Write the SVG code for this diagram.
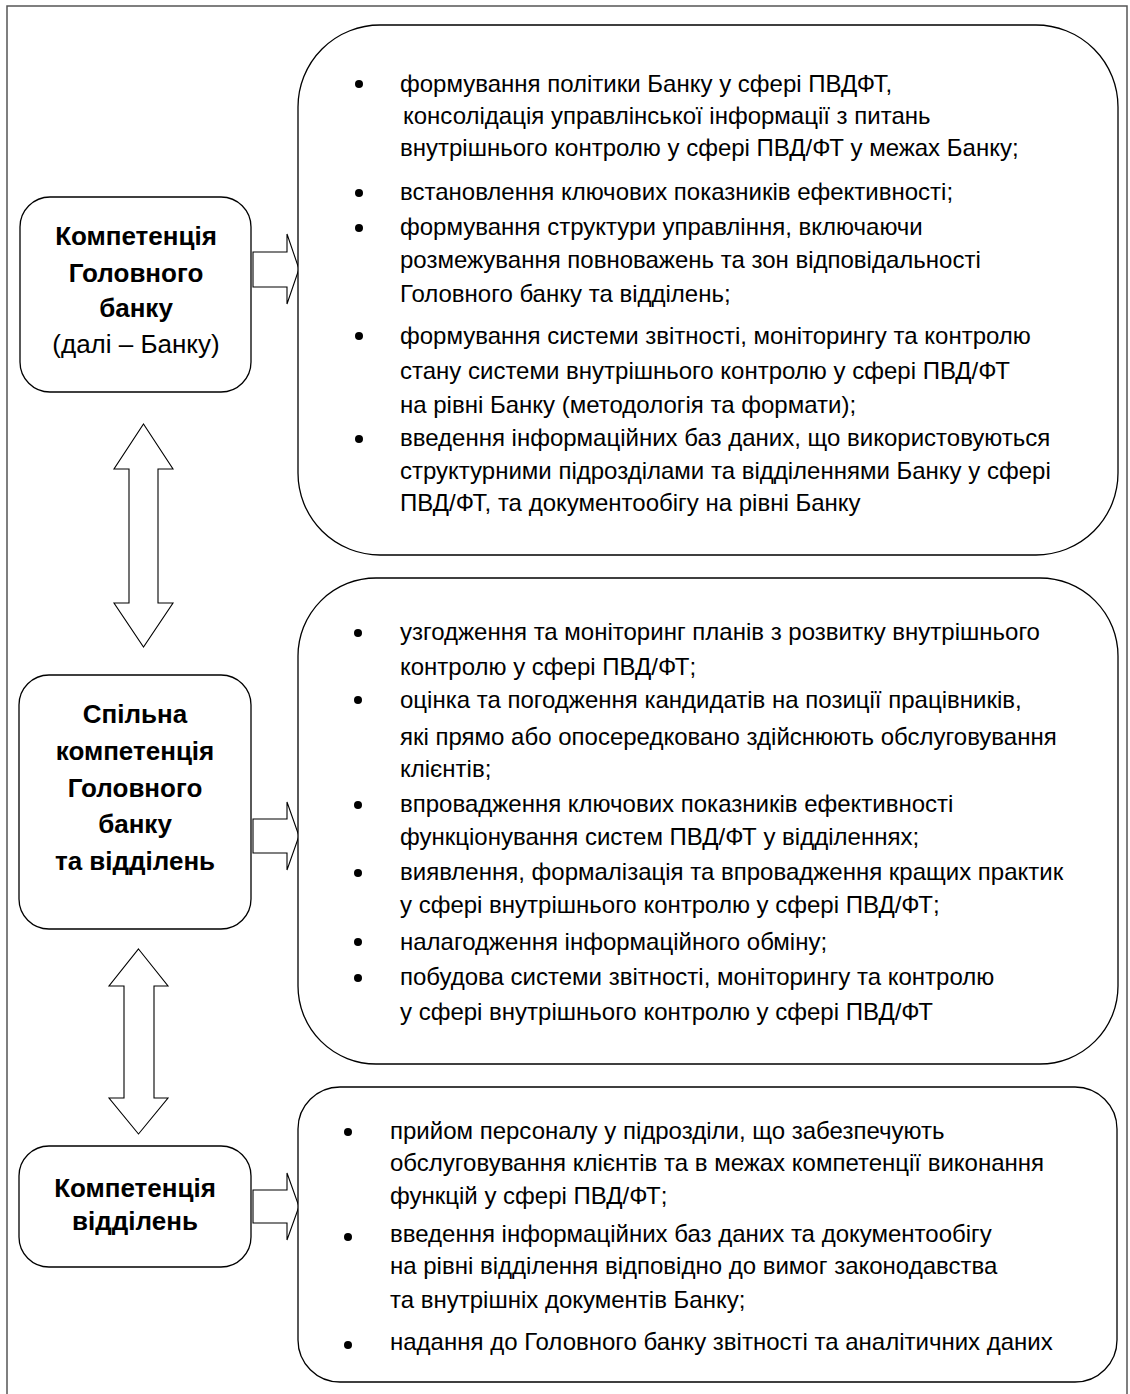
<svg xmlns="http://www.w3.org/2000/svg" width="1130" height="1394" viewBox="0 0 1130 1394">
<style>
.frame{fill:none;stroke:#555;stroke-width:1.5}
.box{fill:#fff;stroke:#000;stroke-width:1.3}
.arr{fill:#fff;stroke:#000;stroke-width:1.1;stroke-linejoin:miter}
.t{font-family:"Liberation Sans",Arial,sans-serif;font-size:24px;fill:#000}
.b{font-family:"Liberation Sans",Arial,sans-serif;font-size:26px;font-weight:bold;fill:#000;text-anchor:middle}
.r{font-family:"Liberation Sans",Arial,sans-serif;font-size:26px;fill:#000;text-anchor:middle}
.dot{fill:#000}
</style>
<rect class="frame" x="7" y="6" width="1120" height="1400"/>

<g id="connectors">
  <path class="arr" d="M253,252 H287 V234 L299,269 L287,304 V287 H253 Z"/>
  <path class="arr" d="M253,819 H287 V802 L299,836 L287,870 V853 H253 Z"/>
  <path class="arr" d="M253,1190 H287 V1173 L299,1206.5 L287,1240 V1223 H253 Z"/>
  <path class="arr" d="M143.5,424 L173,469 H158 V603 H173 L143.5,647 L114,603 H129 V469 H114 Z"/>
  <path class="arr" d="M138.5,949 L168,986 H154 V1098 H168 L138.5,1134 L109,1098 H124 V986 H109 Z"/>
</g>

<g id="node-head">
  <rect class="box" x="20" y="197" width="231" height="195" rx="30" ry="30"/>
  <text class="b" x="136" y="245">Компетенція</text>
  <text class="b" x="136" y="282">Головного</text>
  <text class="b" x="136" y="317">банку</text>
  <text class="r" x="136" y="353">(далі – Банку)</text>
</g>

<g id="node-joint">
  <rect class="box" x="19" y="675" width="232" height="254" rx="30" ry="30"/>
  <text class="b" x="135" y="723">Спільна</text>
  <text class="b" x="135" y="760">компетенція</text>
  <text class="b" x="135" y="797">Головного</text>
  <text class="b" x="135" y="833">банку</text>
  <text class="b" x="135" y="870">та відділень</text>
</g>

<g id="node-branch">
  <rect class="box" x="19" y="1146" width="232" height="121" rx="30" ry="30"/>
  <text class="b" x="135" y="1197">Компетенція</text>
  <text class="b" x="135" y="1230">відділень</text>
</g>

<g id="node-head-tasks">
  <rect class="box" x="298" y="25" width="820" height="530" rx="82" ry="82"/>
  <circle class="dot" cx="359" cy="84" r="4"/>
  <circle class="dot" cx="359" cy="193" r="4"/>
  <circle class="dot" cx="359" cy="228" r="4"/>
  <circle class="dot" cx="359" cy="336" r="4"/>
  <circle class="dot" cx="359" cy="439" r="4"/>
  <text class="t" x="400" y="92">формування політики Банку у сфері ПВДФТ,</text>
  <text class="t" x="403" y="124">консолідація управлінської інформації з питань</text>
  <text class="t" x="400" y="156">внутрішнього контролю у сфері ПВД/ФТ у межах Банку;</text>
  <text class="t" x="400" y="200">встановлення ключових показників ефективності;</text>
  <text class="t" x="400" y="235">формування структури управління, включаючи</text>
  <text class="t" x="400" y="268">розмежування повноважень та зон відповідальності</text>
  <text class="t" x="400" y="302">Головного банку та відділень;</text>
  <text class="t" x="400" y="344">формування системи звітності, моніторингу та контролю</text>
  <text class="t" x="400" y="379">стану системи внутрішнього контролю у сфері ПВД/ФТ</text>
  <text class="t" x="400" y="413">на рівні Банку (методологія та формати);</text>
  <text class="t" x="400" y="446">введення інформаційних баз даних, що використовуються</text>
  <text class="t" x="400" y="479">структурними підрозділами та відділеннями Банку у сфері</text>
  <text class="t" x="400" y="511">ПВД/ФТ, та документообігу на рівні Банку</text>
</g>

<g id="node-joint-tasks">
  <rect class="box" x="298" y="578" width="820" height="486" rx="78" ry="78"/>
  <circle class="dot" cx="358" cy="633" r="4"/>
  <circle class="dot" cx="358" cy="700" r="4"/>
  <circle class="dot" cx="358" cy="805" r="4"/>
  <circle class="dot" cx="358" cy="873" r="4"/>
  <circle class="dot" cx="358" cy="942" r="4"/>
  <circle class="dot" cx="358" cy="978" r="4"/>
  <text class="t" x="400" y="640">узгодження та моніторинг планів з розвитку внутрішнього</text>
  <text class="t" x="400" y="675">контролю у сфері ПВД/ФТ;</text>
  <text class="t" x="400" y="708">оцінка та погодження кандидатів на позиції працівників,</text>
  <text class="t" x="400" y="745">які прямо або опосередковано здійснюють обслуговування</text>
  <text class="t" x="400" y="777">клієнтів;</text>
  <text class="t" x="400" y="812">впровадження ключових показників ефективності</text>
  <text class="t" x="400" y="845">функціонування систем ПВД/ФТ у відділеннях;</text>
  <text class="t" x="400" y="880">виявлення, формалізація та впровадження кращих практик</text>
  <text class="t" x="400" y="913">у сфері внутрішнього контролю у сфері ПВД/ФТ;</text>
  <text class="t" x="400" y="950">налагодження інформаційного обміну;</text>
  <text class="t" x="400" y="985">побудова системи звітності, моніторингу та контролю</text>
  <text class="t" x="400" y="1020">у сфері внутрішнього контролю у сфері ПВД/ФТ</text>
</g>

<g id="node-branch-tasks">
  <rect class="box" x="298" y="1087" width="819" height="295" rx="42" ry="42"/>
  <circle class="dot" cx="348" cy="1132" r="4"/>
  <circle class="dot" cx="348" cy="1237" r="4"/>
  <circle class="dot" cx="348" cy="1345" r="4"/>
  <text class="t" x="390" y="1139">прийом персоналу у підрозділи, що забезпечують</text>
  <text class="t" x="390" y="1171">обслуговування клієнтів та в межах компетенції виконання</text>
  <text class="t" x="390" y="1204">функцій у сфері ПВД/ФТ;</text>
  <text class="t" x="390" y="1242">введення інформаційних баз даних та документообігу</text>
  <text class="t" x="390" y="1274">на рівні відділення відповідно до вимог законодавства</text>
  <text class="t" x="390" y="1308">та внутрішніх документів Банку;</text>
  <text class="t" x="390" y="1350">надання до Головного банку звітності та аналітичних даних</text>
</g>
</svg>
